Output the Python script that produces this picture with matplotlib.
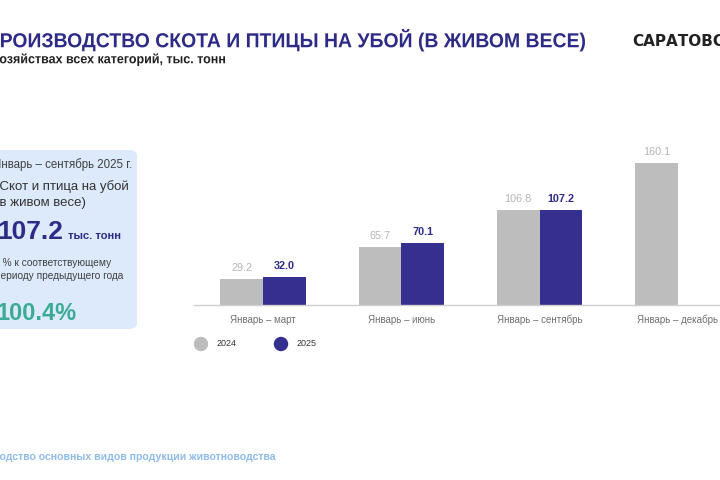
import numpy as np
import matplotlib
matplotlib.use("Agg")
import matplotlib.pyplot as plt
from matplotlib.patches import FancyBboxPatch, Ellipse, PathPatch
from matplotlib.textpath import TextPath
from matplotlib.font_manager import FontProperties
from matplotlib.transforms import Affine2D, IdentityTransform

# data
periods = ["Январь – март", "Январь – июнь", "Январь – сентябрь", "Январь – декабрь"]
values_2024 = [29.2, 65.7, 106.8, 160.1]
values_2025 = [32.0, 70.1, 107.2, np.nan]
years = ["2024", "2025"]

c_gray = "#BDBDBD"
c_blue = "#35308F"
c_title = "#2E2B87"
c_teal = "#3CAB95"

plt.rcParams["font.family"] = ["Liberation Sans", "DejaVu Sans"]

W, H = 720, 480
fig = plt.figure(figsize=(7.2, 4.8), dpi=100)


def px(x, y):
    # pixel position (from top-left) -> figure fraction
    return x / W, 1 - y / H


def narrow_text(s, x0, x1, y_mid, cap, color, weight="normal"):
    # condensed text: glyph outlines squeezed to fit between x0 and x1
    prop = FontProperties(family="Liberation Sans", weight=weight)
    tp = TextPath((0, 0), s, size=100, prop=prop)
    ext = tp.get_extents()
    sy = cap / (0.716 * 100)
    sx = (x1 - x0) / ext.width
    tr = Affine2D().translate(-ext.x0, 0).scale(sx, sy).translate(
        x0, H - y_mid - cap / 2)
    patch = PathPatch(tr.transform_path(tp), facecolor=color, edgecolor="none",
                      transform=IdentityTransform())
    fig.add_artist(patch)


# header
narrow_text("ПРОИЗВОДСТВО СКОТА И ПТИЦЫ НА УБОЙ (В ЖИВОМ ВЕСЕ)",
            -13, 585, 40, 14.5, c_title, weight="bold")
narrow_text("В хозяйствах всех категорий, тыс. тонн",
            -19, 225, 58.5, 9.5, "#222222", weight="bold")
fig.text(*px(632, 41), "САРАТОВСКАЯ", fontsize=11, fontweight="bold",
         color="#222222", va="center", ha="left", family=["DejaVu Sans"])

# left info box
box = FancyBboxPatch(px(-20, 329), 157 / W, 179 / H,
                     boxstyle="round,pad=0,rounding_size=0.012",
                     transform=fig.transFigure, facecolor="#DCEAFB",
                     edgecolor="none", zorder=0)
fig.patches.append(box)
fig.text(*px(-7, 165), "Январь – сентябрь 2025 г.", fontsize=8.3,
         color="#404040", va="center", ha="left")
fig.text(*px(-5, 187), "(Скот и птица на убой", fontsize=9.5,
         color="#333333", va="center", ha="left")
fig.text(*px(-5, 203), "(в живом весе)", fontsize=9.5,
         color="#333333", va="center", ha="left")
fig.text(*px(-3, 232), "107.2", fontsize=19, fontweight="bold",
         color=c_title, va="center", ha="left")
fig.text(*px(68, 236), "тыс. тонн", fontsize=8, fontweight="bold",
         color=c_title, va="center", ha="left")
fig.text(*px(-7, 263), "В % к соответствующему", fontsize=7.3,
         color="#404040", va="center", ha="left")
fig.text(*px(-5, 276), "периоду предыдущего года", fontsize=7.3,
         color="#404040", va="center", ha="left")
fig.text(*px(-4, 313), "100.4%", fontsize=17, fontweight="bold",
         color=c_teal, va="center", ha="left")

# footer
fig.text(*px(-39, 457), "Производство основных видов продукции животноводства",
         fontsize=7.6, fontweight="bold", color="#8FBCEA", va="center",
         ha="left")

# bar chart
ax_l, ax_r = 194, 747
ax_b, ax_t = 305, 305 - 180 * 0.887
ax = fig.add_axes([ax_l / W, 1 - ax_b / H, (ax_r - ax_l) / W, (ax_b - ax_t) / H])
x = np.arange(len(periods))
w = 0.31
b1 = ax.bar(x - w / 2, values_2024, w, color=c_gray, label=years[0])
b2 = ax.bar(x + w / 2, values_2025, w, color=c_blue, label=years[1])

for rect, v in zip(b1, values_2024):
    ax.annotate(f"{v:.1f}", (rect.get_x() + rect.get_width() / 2, v),
                xytext=(0, 8), textcoords="offset points", ha="center",
                va="center", fontsize=7.8, color="#B5B5B5")
for rect, v in zip(b2, values_2025):
    if np.isnan(v):
        continue
    ax.annotate(f"{v:.1f}", (rect.get_x() + rect.get_width() / 2, v),
                xytext=(0, 8), textcoords="offset points", ha="center",
                va="center", fontsize=7.8, color=c_title, fontweight="bold")

ax.set_xlim(-0.5, 3.5)
ax.set_ylim(0, 180)
ax.set_xticks(x)
ax.set_xticklabels(periods, fontsize=7, color="#707070")
ax.tick_params(axis="x", length=0, pad=7)
ax.set_yticks([])
for s in ["top", "right", "left"]:
    ax.spines[s].set_visible(False)
ax.spines["bottom"].set_color("#CFCFCF")
ax.spines["bottom"].set_linewidth(1)
ax.patch.set_alpha(0)

# legend
for xx, col, lab in [(201, c_gray, years[0]), (281, c_blue, years[1])]:
    fig.add_artist(Ellipse(px(xx, 344), 13 / W, 13 / H, color=col,
                           transform=fig.transFigure))
    fig.text(*px(xx + 16, 344), lab, fontsize=6.5, color="#333333",
             va="center", ha="left")

fig.savefig("out.png", dpi=100, facecolor="white")
